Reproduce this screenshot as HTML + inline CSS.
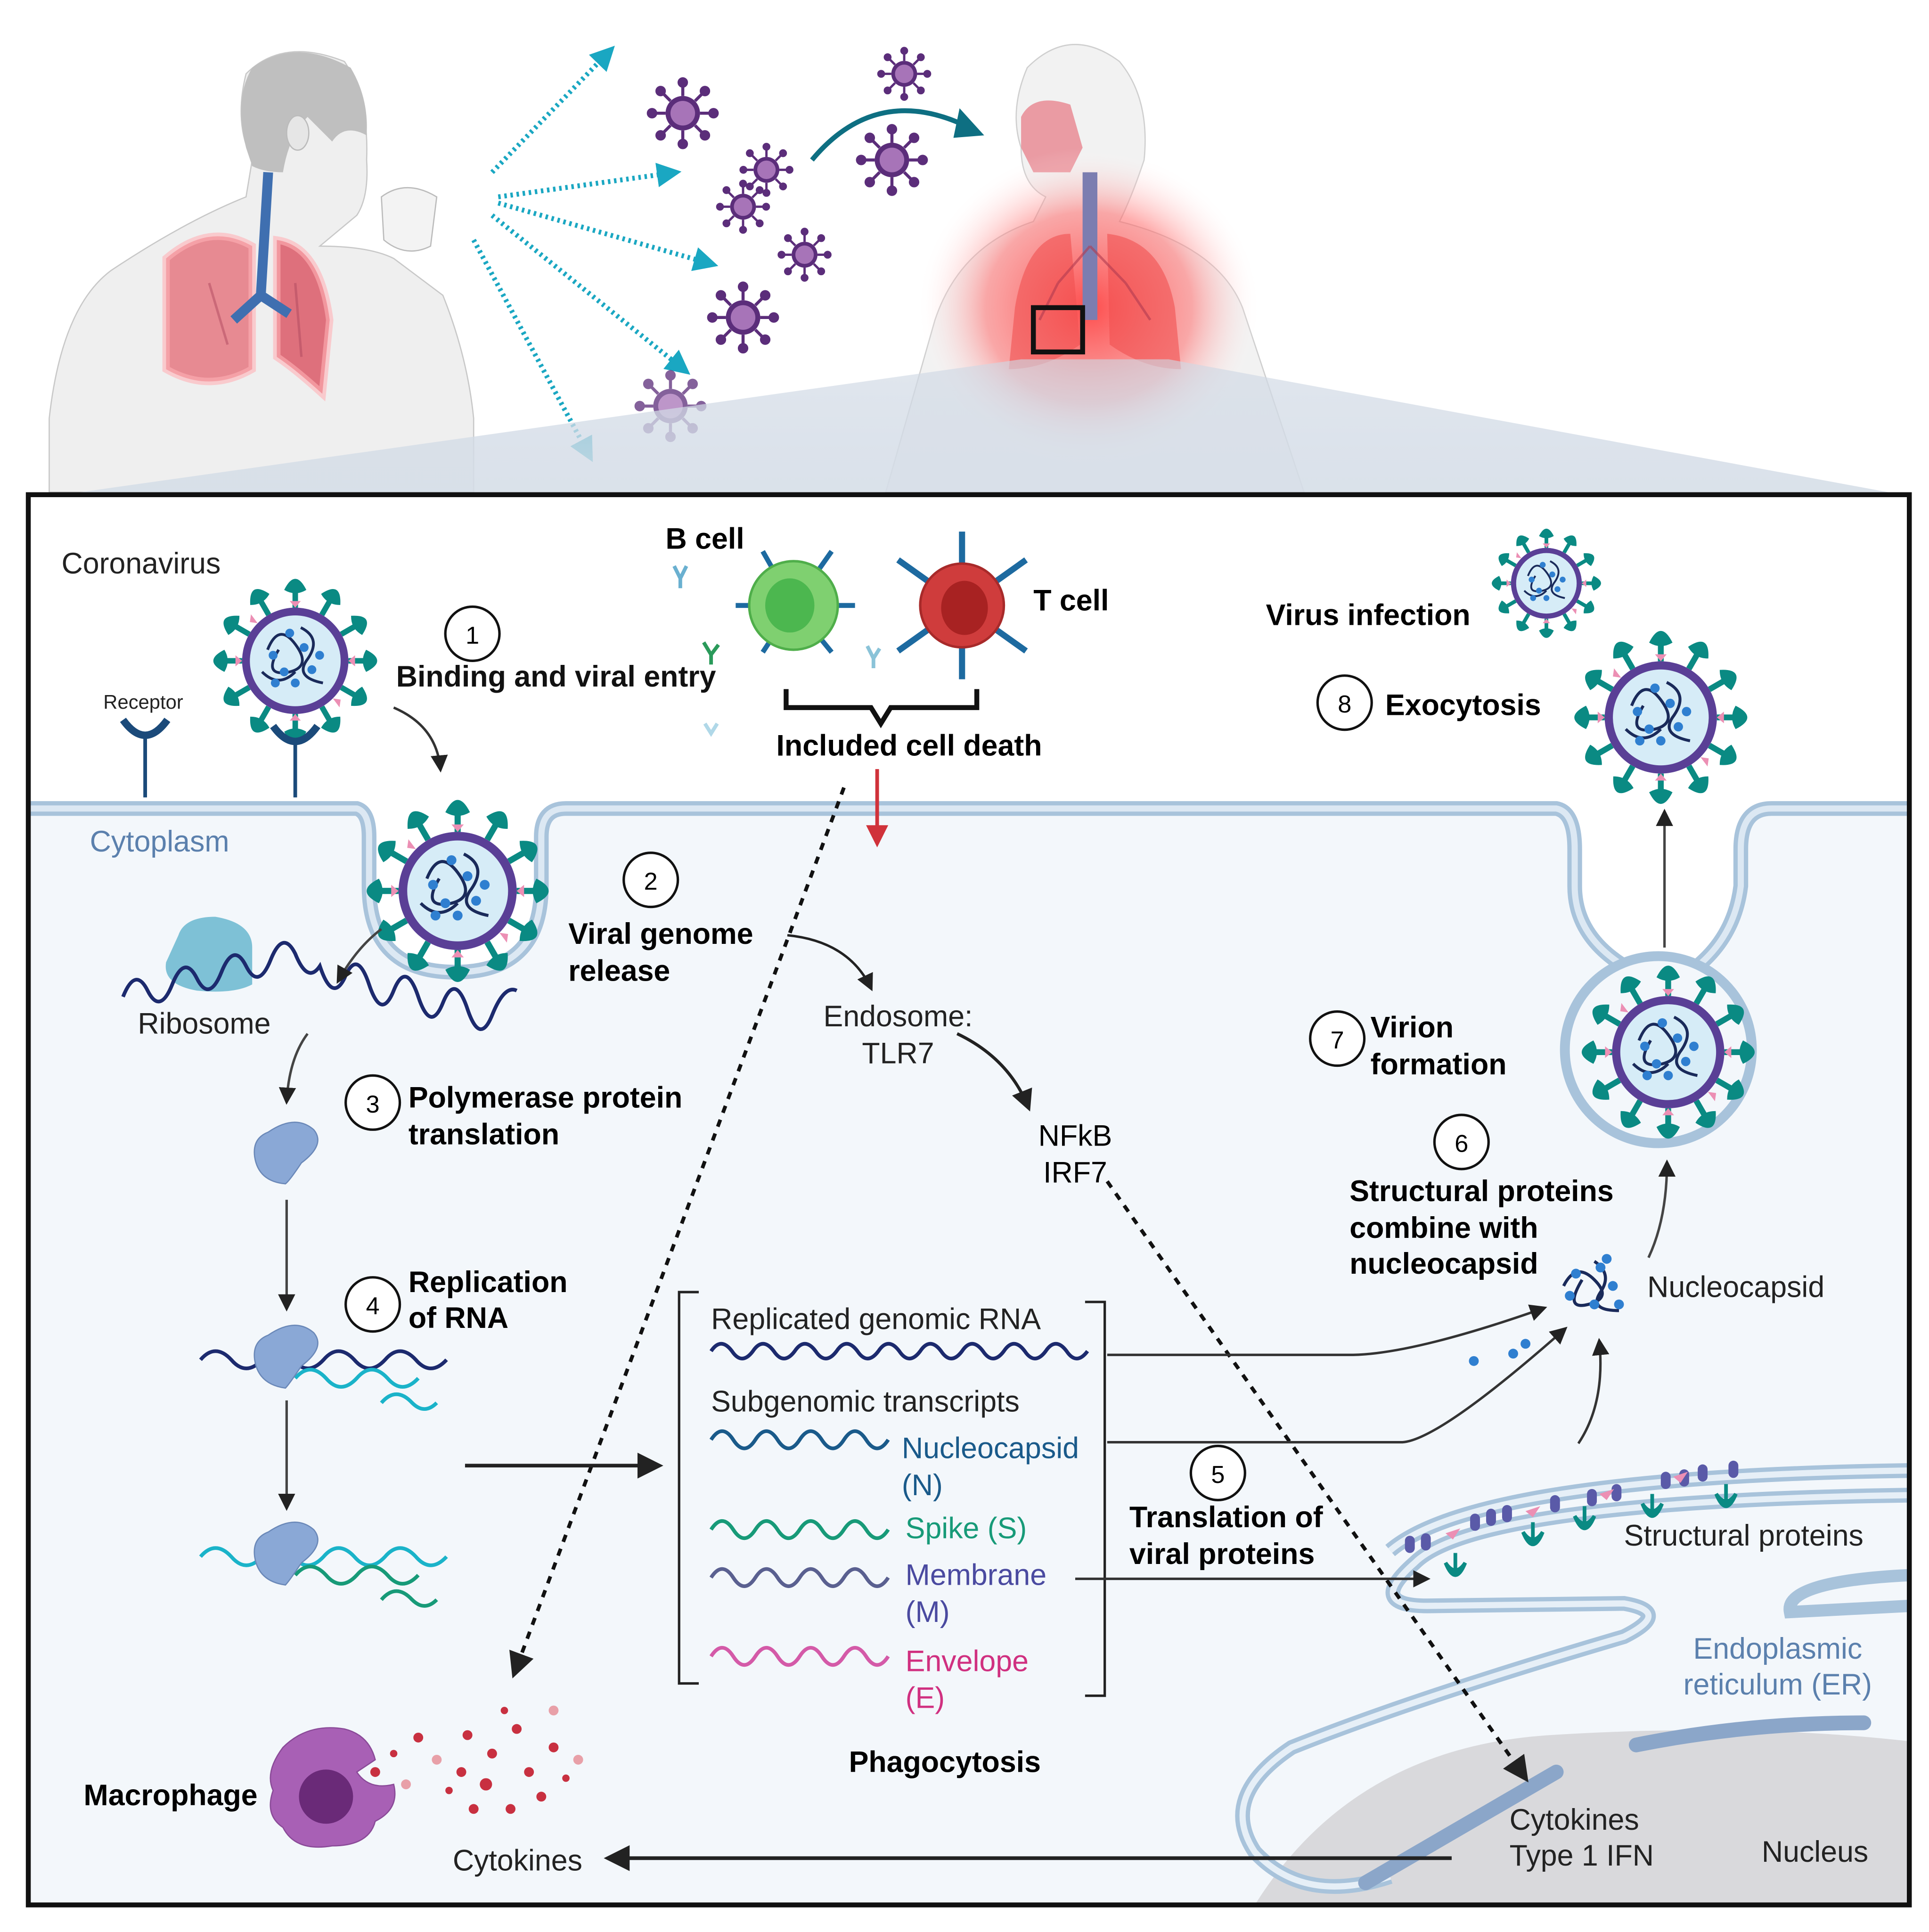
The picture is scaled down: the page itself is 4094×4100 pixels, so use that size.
<!DOCTYPE html>
<html><head><meta charset="utf-8"><style>
html,body{margin:0;padding:0;background:#fff}
svg{display:block}
text{font-family:"Liberation Sans",sans-serif}
</style></head><body>
<svg width="4094" height="4100" viewBox="0 0 1568 1570" preserveAspectRatio="none" xmlns="http://www.w3.org/2000/svg">
<defs>
<radialGradient id="glow" cx="0.5" cy="0.5" r="0.5">
<stop offset="0" stop-color="#ff3b3b" stop-opacity="0.9"/>
<stop offset="0.6" stop-color="#ff6a6a" stop-opacity="0.55"/>
<stop offset="1" stop-color="#ffffff" stop-opacity="0"/>
</radialGradient>
<linearGradient id="trap" x1="0" y1="0" x2="0" y2="1">
<stop offset="0" stop-color="#cfd8e4" stop-opacity="0.7"/>
<stop offset="1" stop-color="#d6dee8"/>
</linearGradient>
<g id="spike"><line x1="0" y1="-48" x2="0" y2="-62" stroke="#0a8a83" stroke-width="5"/><path d="M-10,-64 Q0,-84 10,-64 Q0,-58 -10,-64Z" fill="#0a8a83"/></g>
<g id="virus">
<use href="#spike" transform="rotate(0)"/><use href="#spike" transform="rotate(30)"/><use href="#spike" transform="rotate(60)"/><use href="#spike" transform="rotate(90)"/><use href="#spike" transform="rotate(120)"/><use href="#spike" transform="rotate(150)"/><use href="#spike" transform="rotate(180)"/><use href="#spike" transform="rotate(210)"/><use href="#spike" transform="rotate(240)"/><use href="#spike" transform="rotate(270)"/><use href="#spike" transform="rotate(300)"/><use href="#spike" transform="rotate(330)"/>
<circle r="48" fill="#5a3f96"/><circle r="41" fill="#d6ecf7"/>
<path d="M-25,-10 q10,-25 25,-5 q15,20 -5,25 q-25,5 -10,-20 M5,-30 q20,10 5,30 q-10,15 15,20 M-30,10 q15,15 30,0" fill="none" stroke="#1a2a5a" stroke-width="2.5"/>
<g fill="#2f7fd0"><circle cx="-20" cy="-5" r="4"/><circle cx="-10" cy="10" r="4"/><circle cx="8" cy="-12" r="4"/><circle cx="15" cy="8" r="4"/><circle cx="0" cy="20" r="4"/><circle cx="-18" cy="20" r="4"/><circle cx="22" cy="-5" r="4"/><circle cx="-5" cy="-25" r="4"/></g>
<g fill="#ec8fb4"><path d="M0,-48 l-5,-6 h10z"/><path d="M0,48 l-5,6 h10z"/><path d="M48,0 l6,-5 v10z"/><path d="M-48,0 l-6,-5 v10z"/><path d="M34,34 l7,1 -1,7z"/><path d="M-34,-34 l-7,-1 1,-7z"/></g>
</g>
<g id="pv"><g stroke="#5b2d7a" stroke-width="2.5" fill="#5b2d7a">
<line x1="0" y1="-14" x2="0" y2="-24"/><circle cx="0" cy="-25" r="3"/>
<line x1="0" y1="14" x2="0" y2="24"/><circle cx="0" cy="25" r="3"/>
<line x1="14" y1="0" x2="24" y2="0"/><circle cx="25" cy="0" r="3"/>
<line x1="-14" y1="0" x2="-24" y2="0"/><circle cx="-25" cy="0" r="3"/>
<line x1="10" y1="10" x2="17" y2="17"/><circle cx="18" cy="18" r="3"/>
<line x1="-10" y1="10" x2="-17" y2="17"/><circle cx="-18" cy="18" r="3"/>
<line x1="10" y1="-10" x2="17" y2="-17"/><circle cx="18" cy="-18" r="3"/>
<line x1="-10" y1="-10" x2="-17" y2="-17"/><circle cx="-18" cy="-18" r="3"/></g>
<circle r="14" fill="#5b2d7a"/><circle r="10" fill="#a774b8"/></g>
<marker id="ah" viewBox="0 0 10 10" refX="8" refY="5" markerWidth="7" markerHeight="7" orient="auto"><path d="M0,0 L10,5 L0,10z" fill="#222"/></marker>
<marker id="ahc" viewBox="0 0 10 10" refX="8" refY="5" markerWidth="5" markerHeight="5" orient="auto"><path d="M0,0 L10,5 L0,10z" fill="#1aa7c2"/></marker>
<marker id="ahr" viewBox="0 0 10 10" refX="8" refY="5" markerWidth="6" markerHeight="6" orient="auto"><path d="M0,0 L10,5 L0,10z" fill="#d0323a"/></marker>
</defs>

<!-- left person -->
<path d="M40,340 Q50,250 90,220 Q150,180 200,160 L205,130 Q190,100 200,60 Q230,30 280,50 Q300,80 298,130 Q300,160 290,175 L260,200 Q300,200 320,210 L360,240 Q380,290 385,340 L385,400 L40,400Z" fill="#efefef" stroke="#c8c8c8"/>
<path d="M200,120 Q190,80 205,55 Q240,30 285,55 Q300,80 298,110 Q280,100 270,115 L250,95 Q235,110 230,140 Q215,140 205,135Z" fill="#bfbfbf"/>
<ellipse cx="242" cy="108" rx="9" ry="14" fill="#e6e6e6" stroke="#bbb"/>
<path d="M310,160 Q330,145 355,160 L350,200 Q330,210 312,195Z" fill="#f3f3f3" stroke="#bbb"/>
<path d="M135,210 Q170,180 205,200 L205,300 Q170,320 135,300Z" fill="#e5707a" opacity="0.8"/>
<path d="M225,195 Q260,200 268,260 L262,320 Q240,300 225,290Z" fill="#d9505f" opacity="0.8"/>
<path d="M135,210 Q170,180 205,200 L205,300 Q170,320 135,300Z M225,195 Q260,200 268,260 L262,320 Q240,300 225,290Z" fill="none" stroke="#ffb0b5" stroke-width="6" opacity="0.6"/>
<path d="M218,140 L212,240 M212,240 L190,260 M212,240 L235,255" stroke="#3f6fb0" stroke-width="8" fill="none"/>
<path d="M170,230 L185,280 M240,230 L245,290" stroke="#b04a60" stroke-width="2" opacity="0.5"/>
<g stroke="#1aa7c2" stroke-width="4" stroke-dasharray="2,3" fill="none" marker-end="url(#ahc)">
<line x1="400" y1="140" x2="497" y2="40"/>
<line x1="405" y1="160" x2="550" y2="140"/>
<line x1="405" y1="165" x2="580" y2="215"/>
<line x1="400" y1="175" x2="558" y2="302"/>
<line x1="385" y1="195" x2="480" y2="372"/>
</g>
<use href="#pv" transform="translate(555,92)"/>
<use href="#pv" transform="translate(735,60) scale(0.75)"/>
<use href="#pv" transform="translate(623,138) scale(0.75)"/>
<use href="#pv" transform="translate(604,168) scale(0.75)"/>
<use href="#pv" transform="translate(725,130)"/>
<use href="#pv" transform="translate(654,207) scale(0.75)"/>
<use href="#pv" transform="translate(604,258)"/>
<use href="#pv" transform="translate(545,330)" opacity="0.75"/>
<path d="M660,130 Q710,70 780,100" stroke="#0e6f82" stroke-width="4" fill="none"/>
<path d="M780,88 L800,110 L775,112Z" fill="#0e6f82"/>
<!-- right person -->
<path d="M720,400 L760,260 Q780,200 840,180 L850,160 Q830,150 830,120 Q820,90 835,55 Q870,20 910,50 Q935,80 930,130 Q920,160 910,180 Q990,200 1010,250 L1060,400Z" fill="#f2f2f2" stroke="#cfcfcf"/>
<path d="M830,95 Q840,75 870,85 L880,120 L870,140 L840,140 L830,120Z" fill="#ea9ba3"/>
<ellipse cx="885" cy="250" rx="140" ry="130" fill="url(#glow)"/>
<path d="M870,190 Q835,190 825,250 L820,300 Q850,300 878,280Z" fill="#f05050" opacity="0.6"/>
<path d="M900,190 Q945,195 955,250 L960,300 Q930,300 902,280Z" fill="#f05050" opacity="0.6"/>
<rect x="880" y="140" width="12" height="120" fill="#7c7db0"/>
<path d="M886,200 L860,230 M886,200 L915,230 M860,230 L845,260 M915,230 L935,260" stroke="#b03a50" stroke-width="2" opacity="0.6" fill="none"/>
<rect x="840" y="250" width="40" height="36" fill="none" stroke="#111" stroke-width="4"/>
<polygon points="830,292 950,292 1535,400 65,400" fill="url(#trap)" opacity="0.9"/>

<!-- MAIN BOX -->
<rect x="23" y="402" width="1529" height="1146" fill="#fff"/>
<path d="M23,657 H290 Q300,660 300,680 V720 Q300,790 370,790 Q440,790 440,720 V680 Q440,657 460,657 H1265 Q1280,660 1280,690 V720 Q1280,760 1320,785 L1330,790 L1380,790 Q1410,760 1415,720 V690 Q1415,657 1440,657 H1552 V1548 H23Z" fill="#f3f7fb"/>
<path d="M23,657 H290 Q300,660 300,680 V720 Q300,790 370,790 Q440,790 440,720 V680 Q440,657 460,657 H1265 Q1280,660 1280,690 V720 Q1280,760 1320,785 M1380,785 Q1410,760 1415,720 V690 Q1415,657 1440,657 H1552" fill="none" stroke="#a8c3db" stroke-width="12"/>
<path d="M23,657 H290 Q300,660 300,680 V720 Q300,790 370,790 Q440,790 440,720 V680 Q440,657 460,657 H1265 Q1280,660 1280,690 V720 Q1280,760 1320,785 M1380,785 Q1410,760 1415,720 V690 Q1415,657 1440,657 H1552" fill="none" stroke="#dce8f3" stroke-width="5"/>
<path d="M1020,1548 Q1100,1420 1260,1410 Q1420,1400 1552,1415 V1548Z" fill="#d9d9dc"/>
<!-- ER -->
<path d="M1130,1260 Q1200,1200 1552,1195 M1552,1215 Q1200,1220 1150,1270 Q1110,1305 1160,1305 L1320,1303 Q1360,1310 1320,1330 Q1150,1380 1050,1420 Q990,1460 1020,1505 Q1060,1548 1130,1525" fill="none" stroke="#a8c3db" stroke-width="12"/>
<path d="M1130,1260 Q1200,1200 1552,1195 M1552,1215 Q1200,1220 1150,1270 Q1110,1305 1160,1305 L1320,1303 Q1360,1310 1320,1330 Q1150,1380 1050,1420 Q990,1460 1020,1505 Q1060,1548 1130,1525" fill="none" stroke="#e6eff7" stroke-width="5"/>
<path d="M1552,1280 Q1450,1285 1455,1310 L1552,1305" fill="none" stroke="#a8c3db" stroke-width="10"/>
<path d="M1110,1530 L1265,1440 M1330,1418 Q1420,1400 1515,1400" stroke="#8ba6c9" stroke-width="12" stroke-linecap="round" fill="none"/>
<rect x="23" y="402" width="1529" height="1146" fill="none" stroke="#111" stroke-width="4"/>

<text x="50" y="466" font-size="24" fill="#222">Coronavirus</text>
<use href="#virus" transform="translate(240,537) scale(0.9)"/>
<text x="84" y="576" font-size="16" fill="#222">Receptor</text>
<g stroke="#1b4a7a" stroke-width="3" fill="none"><path d="M100,585 Q118,610 136,585" stroke-width="6"/><line x1="118" y1="600" x2="118" y2="648"/><path d="M222,590 Q240,615 258,590" stroke-width="6"/><line x1="240" y1="605" x2="240" y2="648"/></g>
<circle cx="384" cy="515" r="22" fill="#fff" stroke="#111" stroke-width="2"/><text x="384" y="523" font-size="20" text-anchor="middle">1</text>
<text x="322" y="558" font-size="24" font-weight="bold" fill="#111">Binding and viral entry</text>
<path d="M320,575 Q355,590 358,625" stroke="#333" stroke-width="2" fill="none" marker-end="url(#ah)"/>
<text x="541" y="446" font-size="24" font-weight="bold">B cell</text>
<g stroke="#1d6aa0" stroke-width="4"><line x1="645" y1="492" x2="598" y2="492"/><line x1="645" y1="492" x2="695" y2="492"/><line x1="645" y1="492" x2="620" y2="448"/><line x1="645" y1="492" x2="676" y2="448"/><line x1="645" y1="492" x2="620" y2="530"/><line x1="645" y1="492" x2="676" y2="530"/></g>
<circle cx="645" cy="492" r="36" fill="#7fd070" stroke="#4fae4a" stroke-width="2"/><ellipse cx="642" cy="492" rx="20" ry="22" fill="#4cb74f"/>
<g stroke="#1d6aa0" stroke-width="5"><line x1="782" y1="492" x2="782" y2="432"/><line x1="782" y1="492" x2="782" y2="552"/><line x1="782" y1="492" x2="730" y2="455"/><line x1="782" y1="492" x2="834" y2="455"/><line x1="782" y1="492" x2="730" y2="529"/><line x1="782" y1="492" x2="834" y2="529"/></g>
<circle cx="782" cy="492" r="34" fill="#cf3c3c" stroke="#a82a2a" stroke-width="2"/><ellipse cx="784" cy="494" rx="19" ry="22" fill="#a82222"/>
<text x="840" y="496" font-size="24" font-weight="bold">T cell</text>
<g stroke-width="3" fill="none"><path d="M548,460 l5,10 l5,-10 M553,470 v8" stroke="#6ab0d0"/><path d="M572,522 l6,10 l6,-8 M578,532 v8" stroke="#2a9a5a"/><path d="M705,525 l5,10 l5,-8 M710,535 v8" stroke="#8ac3d8"/><path d="M573,588 l5,8 l5,-8" stroke="#b0d8e8"/></g>
<path d="M639,560 V575 H708 L716,588 L724,575 H794 V560" stroke="#111" stroke-width="4" fill="none"/>
<text x="631" y="614" font-size="24" font-weight="bold">Included cell death</text>
<line x1="713" y1="625" x2="713" y2="685" stroke="#d0323a" stroke-width="3" marker-end="url(#ahr)"/>
<text x="1029" y="508" font-size="24" font-weight="bold">Virus infection</text>
<use href="#virus" transform="translate(1257,474) scale(0.6)"/>
<circle cx="1093" cy="571" r="22" fill="#fff" stroke="#111" stroke-width="2"/><text x="1093" y="579" font-size="20" text-anchor="middle">8</text>
<text x="1126" y="581" font-size="24" font-weight="bold">Exocytosis</text>
<use href="#virus" transform="translate(1350,583) scale(0.95)"/>
<line x1="1353" y1="770" x2="1353" y2="660" stroke="#444" stroke-width="2" marker-end="url(#ah)"/>
<text x="73" y="692" font-size="24" fill="#5b80ad">Cytoplasm</text>
<use href="#virus" transform="translate(372,724) scale(1)"/>
<path d="M145,760 Q150,745 175,745 Q205,750 205,770 L205,800 Q190,808 160,805 Q132,800 135,782Z" fill="#7ec1d6"/>
<path d="M100,810 q10,-25 20,-5 q10,20 20,-5 q10,-25 20,-5 q10,20 20,-5 q10,-25 20,-5 q10,20 20,-5 q10,-25 20,-5 q10,25 20,10 q10,30 20,10 q10,-25 20,5 q10,30 20,5 q10,-25 20,5 q10,30 20,5 q10,-25 20,5 q10,30 20,5 q10,-25 20,-20" fill="none" stroke="#1c2a6e" stroke-width="3"/>
<path d="M310,755 Q290,770 275,797" stroke="#444" stroke-width="2" fill="none" marker-end="url(#ah)"/>
<text x="112" y="840" font-size="24" fill="#222">Ribosome</text>
<circle cx="529" cy="715" r="22" fill="#fff" stroke="#111" stroke-width="2"/><text x="529" y="723" font-size="20" text-anchor="middle">2</text>
<text x="462" y="767" font-size="24" font-weight="bold">Viral genome</text>
<text x="462" y="797" font-size="24" font-weight="bold">release</text>
<path d="M640,760 Q690,765 708,803" stroke="#222" stroke-width="2" fill="none" marker-end="url(#ah)"/>
<text x="730" y="834" font-size="24" text-anchor="middle" fill="#222">Endosome:</text>
<text x="730" y="864" font-size="24" text-anchor="middle" fill="#222">TLR7</text>
<path d="M778,840 Q820,860 836,900" stroke="#222" stroke-width="2.5" fill="none" marker-end="url(#ah)"/>
<text x="874" y="931" font-size="24" text-anchor="middle">NFkB</text>
<text x="874" y="961" font-size="24" text-anchor="middle">IRF7</text>
<line x1="900" y1="960" x2="1240" y2="1445" stroke="#111" stroke-width="3" stroke-dasharray="6,6" marker-end="url(#ah)"/>
<line x1="686" y1="640" x2="418" y2="1360" stroke="#111" stroke-width="3" stroke-dasharray="6,6" marker-end="url(#ah)"/>
<path d="M250,840 Q235,860 233,895" stroke="#444" stroke-width="2" fill="none" marker-end="url(#ah)"/>
<path d="M218,920 Q240,905 255,918 Q265,930 245,945 Q235,960 232,962 Q210,960 207,940 Q205,925 218,920Z" fill="#8aa8d6" stroke="#6a88b8"/>
<circle cx="303" cy="896" r="22" fill="#fff" stroke="#111" stroke-width="2"/><text x="303" y="904" font-size="20" text-anchor="middle">3</text>
<text x="332" y="900" font-size="24" font-weight="bold">Polymerase protein</text>
<text x="332" y="930" font-size="24" font-weight="bold">translation</text>
<line x1="233" y1="975" x2="233" y2="1063" stroke="#444" stroke-width="2" marker-end="url(#ah)"/>
<circle cx="303" cy="1060" r="22" fill="#fff" stroke="#111" stroke-width="2"/><text x="303" y="1068" font-size="20" text-anchor="middle">4</text>
<text x="332" y="1050" font-size="24" font-weight="bold">Replication</text>
<text x="332" y="1079" font-size="24" font-weight="bold">of RNA</text>
<path d="M163,1105 q12,-14 25,0 q12,14 25,0 q12,-14 25,0 q12,14 25,0 q12,-14 25,0 q12,14 25,0 q12,-14 25,0 q12,14 25,0" fill="none" stroke="#1c2a6e" stroke-width="3"/>
<path d="M240,1120 q12,-14 25,0 q12,14 25,0 q12,-14 25,0 q12,14 25,0 M310,1140 q12,-14 25,0 q10,10 20,0" fill="none" stroke="#1ab3c9" stroke-width="3"/>
<path d="M218,1085 Q240,1070 255,1083 Q265,1095 245,1110 Q235,1125 232,1128 Q210,1125 207,1105 Q205,1090 218,1085Z" fill="#8aa8d6" stroke="#6a88b8"/>
<line x1="233" y1="1138" x2="233" y2="1225" stroke="#444" stroke-width="2" marker-end="url(#ah)"/>
<path d="M163,1265 q12,-14 25,0 q12,14 25,0 q12,-14 25,0 q12,14 25,0 q12,-14 25,0 q12,14 25,0 q12,-14 25,0 q12,14 25,0" fill="none" stroke="#1ab3c9" stroke-width="3"/>
<path d="M240,1280 q12,-14 25,0 q12,14 25,0 q12,-14 25,0 q12,14 25,0 M310,1300 q12,-14 25,0 q10,10 20,0" fill="none" stroke="#179a78" stroke-width="3"/>
<path d="M218,1245 Q240,1230 255,1243 Q265,1255 245,1270 Q235,1285 232,1288 Q210,1285 207,1265 Q205,1250 218,1245Z" fill="#8aa8d6" stroke="#6a88b8"/>
<line x1="378" y1="1191" x2="535" y2="1191" stroke="#222" stroke-width="3" marker-end="url(#ah)"/>
<path d="M568,1050 H552 V1368 H568" stroke="#222" stroke-width="2" fill="none"/>
<path d="M882,1058 H898 V1378 H882" stroke="#222" stroke-width="2" fill="none"/>
<text x="578" y="1080" font-size="24" fill="#222">Replicated genomic RNA</text>
<path d="M578,1098 q8,-12 17,0 q8,12 17,0 q8,-12 17,0 q8,12 17,0 q8,-12 17,0 q8,12 17,0 q8,-12 17,0 q8,12 17,0 q8,-12 17,0 q8,12 17,0 q8,-12 17,0 q8,12 17,0 q8,-12 17,0 q8,12 17,0 q8,-12 17,0 q8,12 17,0 q8,-12 17,0 q8,12 17,0" fill="none" stroke="#1c2a6e" stroke-width="3"/>
<text x="578" y="1147" font-size="24" fill="#222">Subgenomic transcripts</text>
<path d="M578,1170 q9,-14 18,0 q9,14 18,0 q9,-14 18,0 q9,14 18,0 q9,-14 18,0 q9,14 18,0 q9,-14 18,0 q9,14 18,0" fill="none" stroke="#1a5a8a" stroke-width="3"/>
<text x="733" y="1185" font-size="24" fill="#1a5a8a">Nucleocapsid</text>
<text x="733" y="1215" font-size="24" fill="#1a5a8a">(N)</text>
<path d="M578,1243 q9,-14 18,0 q9,14 18,0 q9,-14 18,0 q9,14 18,0 q9,-14 18,0 q9,14 18,0 q9,-14 18,0 q9,14 18,0" fill="none" stroke="#179a78" stroke-width="3"/>
<text x="736" y="1250" font-size="24" fill="#179a78">Spike (S)</text>
<path d="M578,1282 q9,-14 18,0 q9,14 18,0 q9,-14 18,0 q9,14 18,0 q9,-14 18,0 q9,14 18,0 q9,-14 18,0 q9,14 18,0" fill="none" stroke="#5a6090" stroke-width="3"/>
<text x="736" y="1288" font-size="24" fill="#4a4aa0">Membrane</text>
<text x="736" y="1318" font-size="24" fill="#4a4aa0">(M)</text>
<path d="M578,1346 q9,-14 18,0 q9,14 18,0 q9,-14 18,0 q9,14 18,0 q9,-14 18,0 q9,14 18,0 q9,-14 18,0 q9,14 18,0" fill="none" stroke="#d45aa8" stroke-width="3"/>
<text x="736" y="1358" font-size="24" fill="#d03080">Envelope</text>
<text x="736" y="1388" font-size="24" fill="#d03080">(E)</text>
<text x="690" y="1440" font-size="24" font-weight="bold">Phagocytosis</text>
<circle cx="1087" cy="844" r="22" fill="#fff" stroke="#111" stroke-width="2"/><text x="1087" y="852" font-size="20" text-anchor="middle">7</text>
<text x="1114" y="843" font-size="24" font-weight="bold">Virion</text>
<text x="1114" y="873" font-size="24" font-weight="bold">formation</text>
<circle cx="1348" cy="853" r="76" fill="#f3f7fb" stroke="#a8c3db" stroke-width="8"/>
<use href="#virus" transform="translate(1356,855) scale(0.95)"/>
<circle cx="1188" cy="928" r="22" fill="#fff" stroke="#111" stroke-width="2"/><text x="1188" y="936" font-size="20" text-anchor="middle">6</text>
<text x="1097" y="976" font-size="24" font-weight="bold">Structural proteins</text>
<text x="1097" y="1006" font-size="24" font-weight="bold">combine with</text>
<text x="1097" y="1035" font-size="24" font-weight="bold">nucleocapsid</text>
<path d="M1340,1022 Q1355,990 1355,945" stroke="#444" stroke-width="2" fill="none" marker-end="url(#ah)"/>
<g transform="translate(1296,1045)"><path d="M-25,0 q10,-20 25,-5 q15,15 -5,20 q-20,5 -5,-20 M0,-20 q15,10 5,25 q-10,15 15,15" fill="none" stroke="#1a2a5a" stroke-width="2.5"/><g fill="#2f7fd0"><circle cx="-15" cy="-10" r="4"/><circle cx="5" cy="-15" r="4"/><circle cx="15" cy="0" r="4"/><circle cx="0" cy="15" r="4"/><circle cx="-20" cy="8" r="4"/><circle cx="20" cy="15" r="4"/><circle cx="10" cy="-22" r="4"/></g></g>
<text x="1339" y="1054" font-size="24" fill="#222">Nucleocapsid</text>
<g fill="#2f7fd0"><circle cx="1198" cy="1106" r="4"/><circle cx="1230" cy="1100" r="4"/><circle cx="1240" cy="1092" r="4"/></g>
<path d="M900,1101 H1100 Q1150,1100 1255,1063" stroke="#333" stroke-width="2" fill="none" marker-end="url(#ah)"/>
<path d="M900,1172 H1140 Q1170,1170 1272,1080" stroke="#333" stroke-width="2" fill="none" marker-end="url(#ah)"/>
<path d="M1283,1173 Q1305,1140 1300,1090" stroke="#333" stroke-width="2" fill="none" marker-end="url(#ah)"/>
<circle cx="990" cy="1197" r="22" fill="#fff" stroke="#111" stroke-width="2"/><text x="990" y="1205" font-size="20" text-anchor="middle">5</text>
<text x="918" y="1241" font-size="24" font-weight="bold">Translation of</text>
<text x="918" y="1271" font-size="24" font-weight="bold">viral proteins</text>
<line x1="874" y1="1283" x2="1160" y2="1283" stroke="#333" stroke-width="2" marker-end="url(#ah)"/>
<g fill="#5a5aa8"><rect x="1142" y="1248" width="8" height="14" rx="4"/><rect x="1155" y="1246" width="8" height="14" rx="4"/><rect x="1195" y="1230" width="8" height="14" rx="4"/><rect x="1208" y="1226" width="8" height="14" rx="4"/><rect x="1221" y="1223" width="8" height="14" rx="4"/><rect x="1260" y="1215" width="8" height="14" rx="4"/><rect x="1290" y="1210" width="8" height="14" rx="4"/><rect x="1310" y="1206" width="8" height="14" rx="4"/><rect x="1350" y="1196" width="8" height="14" rx="4"/><rect x="1365" y="1194" width="8" height="14" rx="4"/><rect x="1380" y="1190" width="8" height="14" rx="4"/><rect x="1405" y="1187" width="8" height="14" rx="4"/></g>
<g fill="#ec8fb4"><path d="M1175,1246 l12,-4 -6,9z"/><path d="M1240,1228 l12,-4 -6,9z"/><path d="M1300,1214 l12,-4 -6,9z"/><path d="M1360,1200 l12,-4 -6,9z"/></g>
<g fill="#0a8a83"><path d="M1175,1270 q8,12 16,0 q-8,20 -16,0z M1183,1262 v15" stroke="#0a8a83" stroke-width="3"/><path d="M1238,1245 q8,12 16,0 q-8,20 -16,0z M1246,1237 v15" stroke="#0a8a83" stroke-width="3"/><path d="M1280,1232 q8,12 16,0 q-8,20 -16,0z M1288,1224 v15" stroke="#0a8a83" stroke-width="3"/><path d="M1335,1222 q8,12 16,0 q-8,20 -16,0z M1343,1214 v15" stroke="#0a8a83" stroke-width="3"/><path d="M1395,1214 q8,12 16,0 q-8,20 -16,0z M1403,1206 v15" stroke="#0a8a83" stroke-width="3"/></g>
<text x="1320" y="1256" font-size="24" fill="#222">Structural proteins</text>
<text x="1445" y="1348" font-size="24" text-anchor="middle" fill="#5b80ad">Endoplasmic</text>
<text x="1445" y="1377" font-size="24" text-anchor="middle" fill="#5b80ad">reticulum (ER)</text>
<text x="1227" y="1487" font-size="24" fill="#222">Cytokines</text>
<text x="1227" y="1516" font-size="24" fill="#222">Type 1 IFN</text>
<text x="1432" y="1513" font-size="24" fill="#222">Nucleus</text>
<line x1="1180" y1="1510" x2="495" y2="1510" stroke="#222" stroke-width="3" marker-end="url(#ah)"/>
<text x="368" y="1520" font-size="24" fill="#222">Cytokines</text>
<text x="68" y="1467" font-size="24" font-weight="bold">Macrophage</text>
<path d="M230,1420 Q250,1400 280,1405 Q300,1410 305,1430 L290,1440 Q300,1455 320,1450 Q325,1470 305,1480 Q300,1500 270,1500 Q240,1505 230,1485 Q215,1475 222,1455 Q215,1440 230,1420Z" fill="#a860b5" stroke="#8a4a98"/>
<circle cx="265" cy="1460" r="22" fill="#6a2a78"/>
<g fill="#c83040"><circle cx="305" cy="1440" r="4"/><circle cx="320" cy="1425" r="3"/><circle cx="340" cy="1412" r="4"/><circle cx="380" cy="1410" r="4"/><circle cx="400" cy="1425" r="4"/><circle cx="420" cy="1405" r="4"/><circle cx="395" cy="1450" r="5"/><circle cx="430" cy="1440" r="4"/><circle cx="450" cy="1420" r="4"/><circle cx="415" cy="1470" r="4"/><circle cx="375" cy="1440" r="4"/><circle cx="440" cy="1460" r="4"/><circle cx="460" cy="1445" r="3"/><circle cx="385" cy="1470" r="4"/><circle cx="410" cy="1390" r="3"/><circle cx="365" cy="1455" r="3"/></g>
<g fill="#e8a0a8"><circle cx="355" cy="1430" r="4"/><circle cx="450" cy="1390" r="4"/><circle cx="470" cy="1430" r="4"/><circle cx="330" cy="1450" r="4"/></g>
</svg>
</body></html>
